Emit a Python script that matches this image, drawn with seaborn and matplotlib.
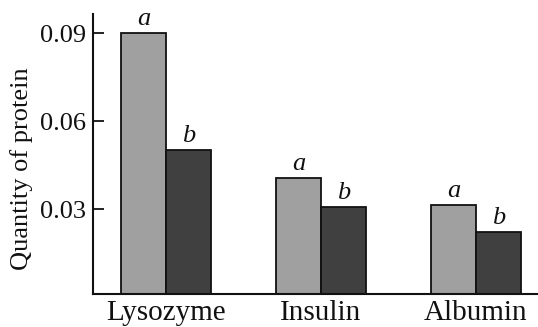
import pandas as pd
import matplotlib.pyplot as plt
import seaborn as sns

# Data
proteins = ['Lysozyme', 'Insulin', 'Albumin']
series_a = [0.090, 0.0406, 0.0314]
series_b = [0.0501, 0.0307, 0.0222]
letters = ['a', 'b']

df = pd.DataFrame({
    'protein': proteins * 2,
    'qty': series_a + series_b,
    'group': [letters[0]] * 3 + [letters[1]] * 3,
})

sns.set_style('ticks')
plt.rcParams['font.family'] = ['Liberation Serif', 'DejaVu Serif']

fig = plt.figure(figsize=(5.38, 3.27), dpi=100)
ax = fig.add_axes([0.173, 0.100, 0.827, 0.857])

sns.barplot(data=df, x='protein', y='qty', hue='group', order=proteins,
            hue_order=letters, palette=['#a0a0a0', '#404040'], width=0.58,
            edgecolor='#111111', linewidth=1.3, saturation=1, legend=False, ax=ax)

# letter above each bar
for cont, lab in zip(ax.containers, letters):
    ax.bar_label(cont, labels=[lab] * len(cont), padding=2, fontsize=19,
                 fontstyle='italic', color='#111111')

ax.set_xlim(-0.47, 2.40)
ax.set_ylim(0.001, 0.0965)
ax.set_yticks([0.03, 0.06, 0.09])
ax.set_yticklabels(['0.03', '0.06', '0.09'])
ax.set_xlabel('')
ax.set_ylabel('Quantity of protein', fontsize=19, color='#111111')
ax.yaxis.set_label_coords(-0.135, 0.45)
ax.tick_params(axis='y', direction='in', length=8, width=1.3, labelsize=19,
               pad=5, labelcolor='#111111', color='#111111')
ax.tick_params(axis='x', length=0, labelsize=21, pad=4, labelcolor='#111111')
for s in ['left', 'bottom']:
    ax.spines[s].set_linewidth(1.5)
    ax.spines[s].set_color('#111111')
sns.despine(ax=ax)

plt.savefig('out.png', dpi=100)
plt.close()
